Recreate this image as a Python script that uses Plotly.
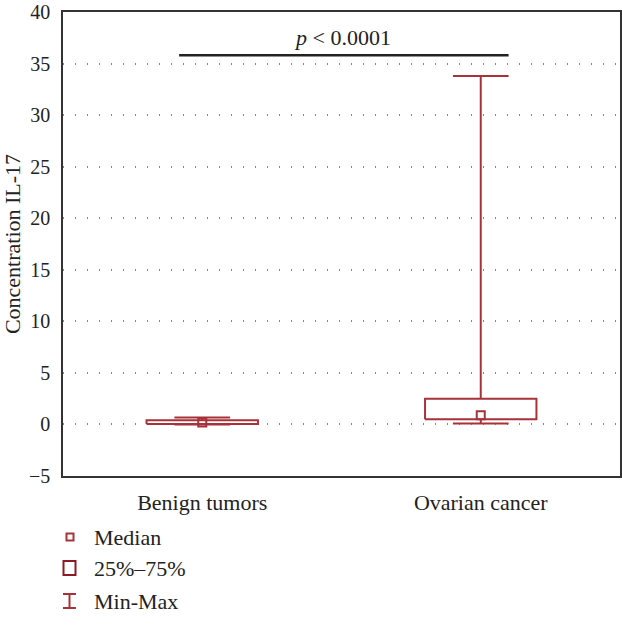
import plotly.graph_objects as go

categories = ["Benign tumors", "Ovarian cancer"]
q1 = [0.05, 0.5]
median = [0.2, 0.9]
q3 = [0.4, 2.5]
minimum = [0.0, 0.1]
maximum = [0.67, 33.8]
yticks = [-5, 0, 5, 10, 15, 20, 25, 30, 35, 40]
p_text = "<i>p</i> < 0.0001"
p_level = 35.8
legend_labels = ["Median", "25%\u201375%", "Min-Max"]

RED = "#a8323a"
DARK = "#8b1a22"
FONT = "Liberation Serif"
FS = 20
FL = 22
BOX_HALF = 0.2
CAP_HALF = 0.1

fig = go.Figure()
for i, cat in enumerate(categories):
    # box
    fig.add_trace(go.Scatter(
        x=[i - BOX_HALF, i + BOX_HALF, i + BOX_HALF, i - BOX_HALF, i - BOX_HALF],
        y=[q1[i], q1[i], q3[i], q3[i], q1[i]],
        mode="lines", line=dict(color=RED, width=2), showlegend=False, hoverinfo="skip"))
    # whiskers
    fig.add_trace(go.Scatter(
        x=[i, i, None, i, i],
        y=[q3[i], maximum[i], None, q1[i], minimum[i]],
        mode="lines", line=dict(color=RED, width=2), showlegend=False, hoverinfo="skip"))
    # caps
    fig.add_trace(go.Scatter(
        x=[i - CAP_HALF, i + CAP_HALF, None, i - CAP_HALF, i + CAP_HALF],
        y=[maximum[i], maximum[i], None, minimum[i], minimum[i]],
        mode="lines", line=dict(color=RED, width=2), showlegend=False, hoverinfo="skip"))
    # median
    fig.add_trace(go.Scatter(
        x=[i], y=[median[i]], mode="markers",
        marker=dict(symbol="square-open", size=8, color=RED, line=dict(width=2, color=RED)),
        showlegend=False, hoverinfo="skip"))

# significance line
fig.add_trace(go.Scatter(
    x=[-0.083, 1.1], y=[p_level, p_level], mode="lines",
    line=dict(color="#222222", width=2.5), showlegend=False, hoverinfo="skip"))
fig.add_annotation(x=0.505, y=p_level, text=p_text, showarrow=False,
                   yanchor="bottom", yshift=3, font=dict(family=FONT, size=FL, color="#222"))

# legend drawn as shapes (pixel -> paper conversion)
L, R, T, B = 63, 620, 12, 476
def px(x):
    return (x - L) / (R - L)
def py(y):
    return (B - y) / (B - T)

shapes = []
shapes.append(dict(type="rect", xref="paper", yref="paper",
                   x0=px(66.5), x1=px(73.5), y0=py(540.5), y1=py(533.5),
                   line=dict(color=RED, width=2)))
shapes.append(dict(type="rect", xref="paper", yref="paper",
                   x0=px(63.5), x1=px(75.5), y0=py(575), y1=py(561),
                   line=dict(color=DARK, width=2)))
shapes.append(dict(type="line", xref="paper", yref="paper",
                   x0=px(69.5), x1=px(69.5), y0=py(594), y1=py(608),
                   line=dict(color=RED, width=2)))
shapes.append(dict(type="line", xref="paper", yref="paper",
                   x0=px(63), x1=px(76), y0=py(594), y1=py(594),
                   line=dict(color=RED, width=2)))
shapes.append(dict(type="line", xref="paper", yref="paper",
                   x0=px(63), x1=px(76), y0=py(608), y1=py(608),
                   line=dict(color=RED, width=2)))
fig.update_layout(shapes=shapes)
for lab, yy in zip(legend_labels, [537, 568, 601]):
    fig.add_annotation(xref="paper", yref="paper", x=px(92), y=py(yy), text=lab,
                       showarrow=False, xanchor="left", yanchor="middle",
                       font=dict(family=FONT, size=FL, color="#222"))

fig.update_layout(
    width=622, height=631,
    margin=dict(l=L, r=622 - R, t=T, b=631 - B, autoexpand=False),
    plot_bgcolor="white", paper_bgcolor="white",
    font=dict(family=FONT, size=FS, color="#222"),
    showlegend=False,
    xaxis=dict(range=[-0.5, 1.5], tickvals=[0, 1], ticktext=categories,
               showgrid=False, zeroline=False, showline=True, mirror=True,
               linecolor="#333", linewidth=1.5, ticks="", ticklabelstandoff=6,
               automargin=False,
               tickfont=dict(family=FONT, size=FL, color="#222")),
    yaxis=dict(range=[-5, 40], tickvals=yticks, showgrid=True,
               gridcolor="#888", griddash="1px,11px", gridwidth=1.5,
               zeroline=False, showline=True, mirror=True,
               linecolor="#333", linewidth=1.5, ticks="", ticklabelstandoff=7,
               ticklabeloverflow="allow", automargin=False,
               title=dict(text="Concentration IL-17", standoff=2,
                          font=dict(family=FONT, size=FL, color="#222")),
               tickfont=dict(family=FONT, size=FS, color="#222")),
)
fig.write_html("out.html", config={"displayModeBar": False},
               post_script="document.body.style.margin='0';document.body.style.overflow='hidden';")
